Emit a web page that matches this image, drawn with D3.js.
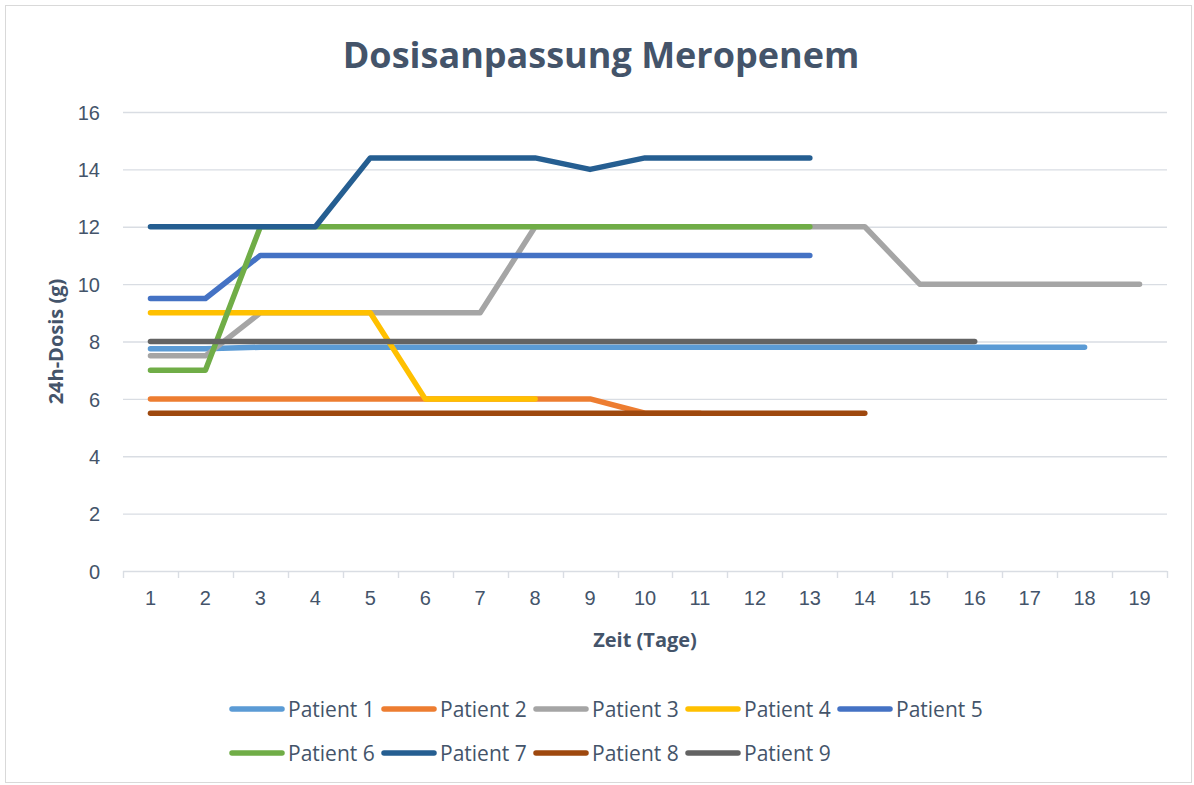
<!DOCTYPE html>
<html>
<head>
<meta charset="utf-8">
<script src="https://cdn.jsdelivr.net/npm/d3@7"></script>
<style>
  body { margin: 0; background: #fff; }
  svg { display: block; font-family: "Open Sans", Lato, sans-serif; }
</style>
</head>
<body>
<div id="chart"></div>
<script>
// data
const days = [1, 2, 3, 4, 5, 6, 7, 8, 9, 10, 11, 12, 13, 14, 15, 16, 17, 18, 19];
const yTicks = [0, 2, 4, 6, 8, 10, 12, 14, 16];
const names = ['Patient 1', 'Patient 2', 'Patient 3', 'Patient 4', 'Patient 5',
  'Patient 6', 'Patient 7', 'Patient 8', 'Patient 9'];
const colors = ['#5B9BD5', '#ED7D31', '#A5A5A5', '#FFC000', '#4472C4',
  '#70AD47', '#255E91', '#9E480E', '#636363'];

const patient1 = [7.75, 7.75, 7.8, 7.8, 7.8, 7.8, 7.8, 7.8, 7.8, 7.8, 7.8, 7.8, 7.8, 7.8, 7.8, 7.8, 7.8, 7.8];
const patient2 = [6, 6, 6, 6, 6, 6, 6, 6, 6, 5.5, 5.5];
const patient3 = [7.5, 7.5, 9, 9, 9, 9, 9, 12, 12, 12, 12, 12, 12, 12, 10, 10, 10, 10, 10];
const patient4 = [9, 9, 9, 9, 9, 6, 6, 6];
const patient5 = [9.5, 9.5, 11, 11, 11, 11, 11, 11, 11, 11, 11, 11, 11];
const patient6 = [7, 7, 12, 12, 12, 12, 12, 12, 12, 12, 12, 12, 12];
const patient7 = [12, 12, 12, 12, 14.4, 14.4, 14.4, 14.4, 14, 14.4, 14.4, 14.4, 14.4];
const patient8 = [5.5, 5.5, 5.5, 5.5, 5.5, 5.5, 5.5, 5.5, 5.5, 5.5, 5.5, 5.5, 5.5, 5.5];
const patient9 = [8, 8, 8, 8, 8, 8, 8, 8, 8, 8, 8, 8, 8, 8, 8, 8];

const series = [patient1, patient2, patient3, patient4, patient5,
  patient6, patient7, patient8, patient9].map((vals, i) => ({
  name: names[i], color: colors[i], values: vals.map((v, j) => ({day: days[j], v: v}))
}));

const W = 1194, H = 785;
const textColor = '#44546A';
const gridColor = '#D9DDE3';
const plotLeft = 123, plotRight = 1167, plotTop = 112, plotBottom = 571;

const svg = d3.select('#chart').append('svg')
  .attr('width', W).attr('height', H);

// chart frame
svg.append('rect')
  .attr('x', 5.5).attr('y', 5.5)
  .attr('width', W - 8).attr('height', H - 8)
  .attr('fill', '#fff').attr('stroke', '#D9D9D9');

let x = d3.scaleBand().domain(days).range([plotLeft, plotRight]);
let y = d3.scaleLinear().domain([0, 16]).range([plotBottom, plotTop]);
let cx = d => x(d) + x.bandwidth() / 2;

// gridlines
svg.append('g').selectAll('line')
  .data(yTicks.filter(t => t > 0))
  .enter().append('line')
  .attr('x1', plotLeft).attr('x2', plotRight)
  .attr('y1', d => y(d) + 0.5).attr('y2', d => y(d) + 0.5)
  .attr('stroke', gridColor).attr('stroke-width', 1.4);

// y axis labels
let yAxis = svg.append('g')
  .attr('transform', 'translate(' + (plotLeft - 23) + ',0)')
  .call(d3.axisLeft(y).tickValues(yTicks).tickSize(0).tickPadding(0));
yAxis.select('.domain').remove();
yAxis.selectAll('text')
  .attr('fill', textColor).style('font-size', '20px').attr('dy', '0.36em');

// x axis
let xAxis = svg.append('g')
  .attr('transform', 'translate(0,' + plotBottom + ')')
  .call(d3.axisBottom(x).tickSize(0).tickPadding(20));
xAxis.select('.domain').remove();
xAxis.selectAll('text')
  .attr('fill', textColor).style('font-size', '20px');

svg.append('line')
  .attr('x1', plotLeft).attr('x2', plotRight)
  .attr('y1', plotBottom + 0.5).attr('y2', plotBottom + 0.5)
  .attr('stroke', gridColor).attr('stroke-width', 1.4);

svg.append('g').selectAll('line')
  .data(days.concat([null]))
  .enter().append('line')
  .attr('x1', (d, i) => Math.round(plotLeft + i * x.step()) + 0.5)
  .attr('x2', (d, i) => Math.round(plotLeft + i * x.step()) + 0.5)
  .attr('y1', plotBottom).attr('y2', plotBottom + 7)
  .attr('stroke', gridColor).attr('stroke-width', 1.4);

// series lines
let line = d3.line()
  .x(d => cx(d.day))
  .y(d => y(d.v));

svg.append('g').selectAll('path')
  .data(series)
  .enter().append('path')
  .attr('d', d => line(d.values))
  .attr('fill', 'none')
  .attr('stroke', d => d.color)
  .attr('stroke-width', 5.5)
  .attr('stroke-linecap', 'round')
  .attr('stroke-linejoin', 'round');

// title
svg.append('text')
  .attr('x', 601).attr('y', 68)
  .attr('text-anchor', 'middle')
  .attr('fill', textColor)
  .style('font-size', '36px').style('font-weight', 'bold')
  .text('Dosisanpassung Meropenem');

// axis titles
svg.append('text')
  .attr('transform', 'translate(63,' + ((plotTop + plotBottom) / 2) + ') rotate(-90)')
  .attr('text-anchor', 'middle')
  .attr('fill', textColor)
  .style('font-size', '20px').style('font-weight', 'bold')
  .text('24h-Dosis (g)');

svg.append('text')
  .attr('x', 645).attr('y', 647)
  .attr('text-anchor', 'middle')
  .attr('fill', textColor)
  .style('font-size', '20px').style('font-weight', 'bold')
  .text('Zeit (Tage)');

// legend
const legX = 230, legStep = 152, legRows = [709, 753];
let leg = svg.append('g').selectAll('g')
  .data(series)
  .enter().append('g')
  .attr('transform', (d, i) => 'translate(' + (legX + (i % 5) * legStep) + ',' + legRows[Math.floor(i / 5)] + ')');

leg.append('line')
  .attr('x1', 2).attr('x2', 52)
  .attr('stroke', d => d.color)
  .attr('stroke-width', 5.5)
  .attr('stroke-linecap', 'round');

leg.append('text')
  .attr('x', 58).attr('dy', '0.36em')
  .attr('fill', textColor)
  .style('font-size', '21px')
  .text(d => d.name);
</script>
</body>
</html>
